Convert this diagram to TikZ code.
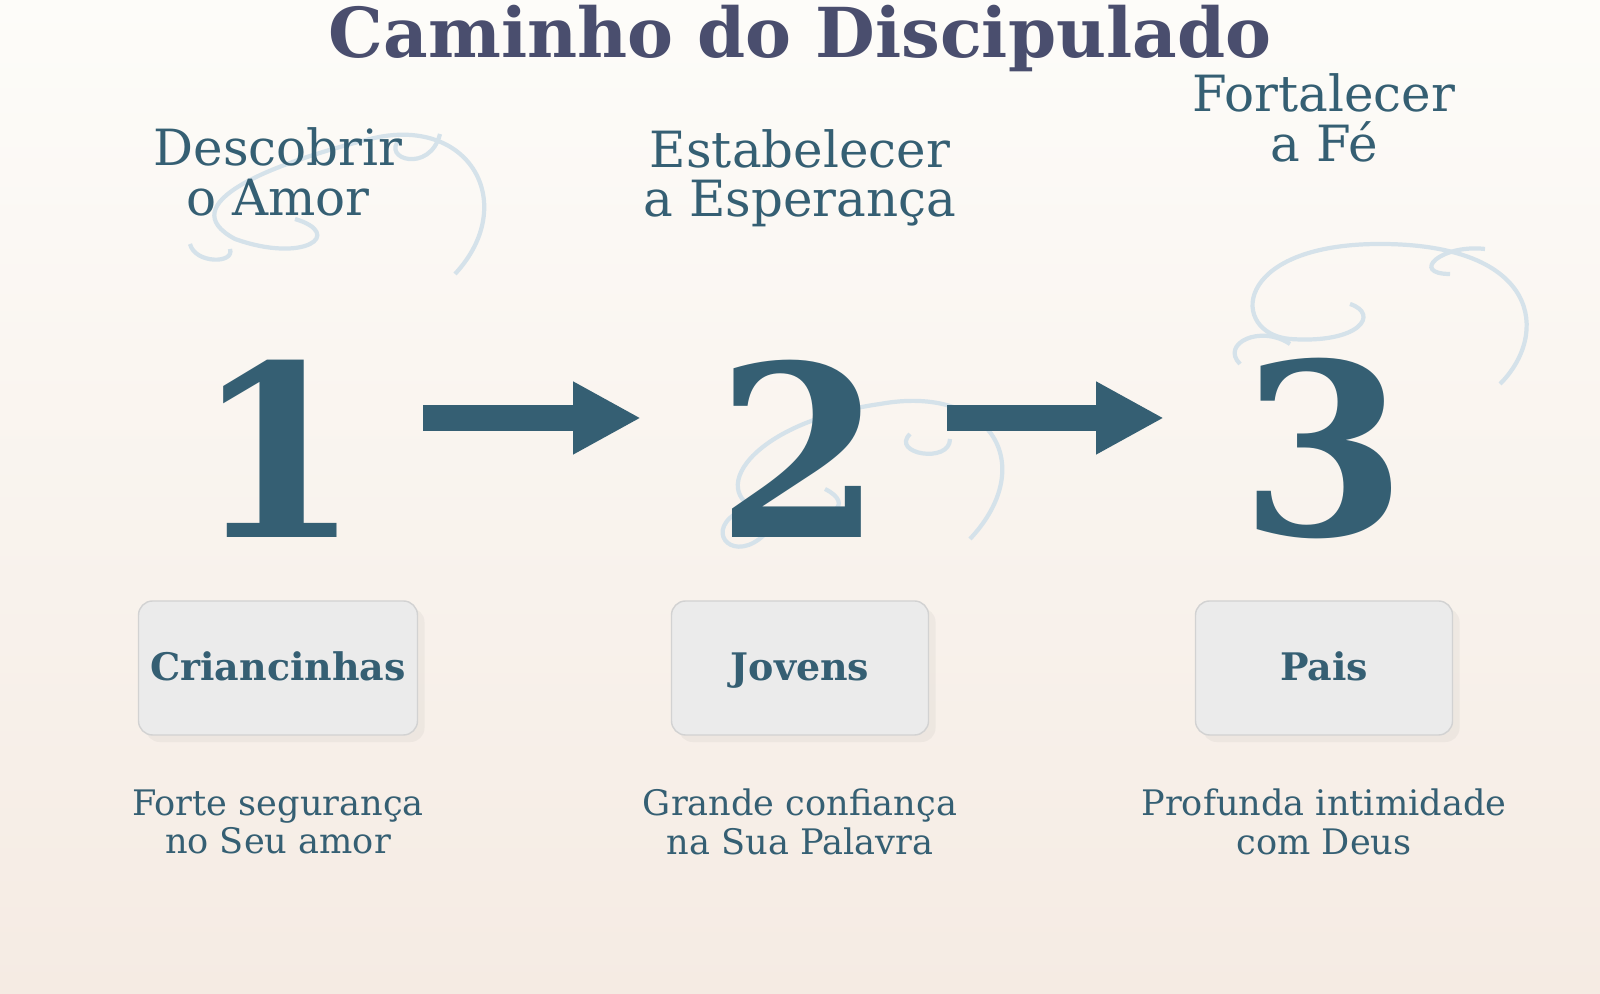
\documentclass[tikz,border=0pt]{standalone}
\usepackage{fontspec}
\setmainfont{DejaVu Serif}
\usetikzlibrary{positioning, arrows.meta, shadows}
\definecolor{titleblue}{HTML}{4A4E6E}
\definecolor{stepblue}{HTML}{355F73}
\definecolor{bgtop}{HTML}{FDFCF9}
\definecolor{bgbot}{HTML}{F5EBE3}
\definecolor{boxfill}{HTML}{EBEBEB}
\definecolor{boxline}{HTML}{D2D2D2}
\definecolor{swirl}{HTML}{D5E2EA}

\begin{document}
\begin{tikzpicture}[
    heading/.style={font=\fontsize{14.2}{14}\selectfont, text=stepblue, align=center},
    number/.style={font=\fontsize{68}{68}\selectfont\bfseries, text=stepblue},
    group/.style={rectangle, rounded corners=4pt, draw=boxline, fill=boxfill, minimum width=2.57cm, minimum height=1.34cm, text height=1.6ex, text depth=0.2ex, font=\fontsize{10.8}{12}\selectfont\bfseries, text=stepblue, drop shadow={opacity=0.08, shadow xshift=2pt, shadow yshift=-2pt}},
    note/.style={font=\fontsize{10}{11}\selectfont, text=stepblue, align=center},
    flow/.style={draw=stepblue, line width=7.6pt, -{Triangle[length=0.68cm, width=0.68cm]}},
    curl/.style={draw=swirl, line width=1.2pt}
]
    % background
    \shade[top color=bgtop, bottom color=bgbot] (0,0) rectangle (16,9.94);
    \useasboundingbox (0,0) rectangle (16,9.94);

    % decorative swirls
    \draw[curl] (4.55,7.2) .. controls (5.2,7.9) and (4.7,8.8) .. (3.7,8.55)
        .. controls (2.7,8.3) and (1.7,7.9) .. (2.35,7.55)
        .. controls (3.05,7.3) and (3.45,7.6) .. (2.95,7.75);
    \draw[curl] (1.9,7.5) .. controls (1.95,7.3) and (2.35,7.3) .. (2.3,7.45);
    \draw[curl] (4.0,8.55) .. controls (3.8,8.35) and (4.3,8.2) .. (4.4,8.6);
    \draw[curl] (9.7,4.55) .. controls (10.4,5.3) and (9.9,6.1) .. (8.8,5.9)
        .. controls (7.4,5.7) and (7.0,4.9) .. (7.75,4.8)
        .. controls (8.35,4.7) and (8.55,4.9) .. (8.25,5.05);
    \draw[curl] (7.35,4.8) .. controls (7.05,4.6) and (7.35,4.3) .. (7.65,4.6);
    \draw[curl] (9.1,5.6) .. controls (8.9,5.4) and (9.5,5.3) .. (9.5,5.55);
    \draw[curl] (15.0,6.1) .. controls (15.5,6.6) and (15.4,7.5) .. (13.8,7.5)
        .. controls (12.3,7.5) and (12.3,6.6) .. (12.9,6.55)
        .. controls (13.6,6.5) and (13.8,6.8) .. (13.5,6.9);
    \draw[curl] (12.4,6.3) .. controls (12.2,6.5) and (12.6,6.7) .. (12.9,6.5);
    \draw[curl] (14.85,7.45) .. controls (14.4,7.5) and (14.1,7.2) .. (14.5,7.2);

    % title
    \node[font=\fontsize{19.6}{20}\selectfont\bfseries, text=titleblue] (title) at (8.0,9.55) {Caminho do Discipulado};

    % headings
    \node[heading] (h1) at (2.78,8.22) {Descobrir\\o Amor};
    \node[heading] (h2) at (8.0,8.16) {Estabelecer\\a Esperança};
    \node[heading] (h3) at (13.24,8.76) {Fortalecer\\a Fé};

    % step numbers
    \node[number] (n1) at (2.78,5.45) {1};
    \node[number] (n2) at (8.0,5.45) {2};
    \node[number] (n3) at (13.24,5.45) {3};

    % arrow ends
    \coordinate (a1s) at (4.23,5.76);
    \coordinate (a1e) at (6.41,5.76);
    \coordinate (a2s) at (9.47,5.76);
    \coordinate (a2e) at (11.64,5.76);
    \draw[flow] (a1s) -- (a1e);
    \draw[flow] (a2s) -- (a2e);

    % groups
    \node[group] (g1) at (2.78,3.26) {Criancinhas};
    \node[group] (g2) at (8.0,3.26) {Jovens};
    \node[group] (g3) at (13.24,3.26) {Pais};

    % notes
    \node[note] (d1) at (2.78,1.72) {Forte segurança\\no Seu amor};
    \node[note] (d2) at (8.0,1.72) {Grande confiança\\na Sua Palavra};
    \node[note] (d3) at (13.24,1.72) {Profunda intimidade\\com Deus};
\end{tikzpicture}
\end{document}
